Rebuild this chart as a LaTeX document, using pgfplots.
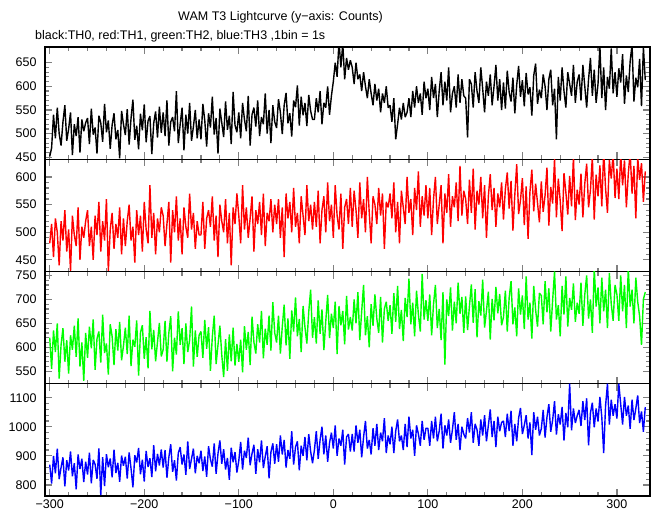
\documentclass[border=0pt]{standalone}
\usepackage{fontspec}
\setmainfont{Liberation Sans}
\usepackage{pgfplots}
\usepackage{pgfplotstable}
\pgfplotsset{compat=1.18}
\definecolor{pgreen}{RGB}{0,255,0}
\definecolor{pred}{RGB}{255,0,0}
\definecolor{pblue}{RGB}{0,0,255}

\pgfplotstableread[row sep=\\]{y\\
452\\470\\540\\490\\555\\500\\475\\525\\560\\485\\510\\545\\455\\520\\495\\535\\460\\530\\505\\523\\
533\\478\\553\\498\\513\\458\\538\\523\\483\\563\\503\\528\\468\\518\\543\\488\\508\\448\\548\\520\\
497\\552\\477\\532\\572\\487\\517\\467\\542\\507\\562\\482\\527\\537\\457\\522\\547\\492\\557\\502\\
545\\495\\570\\475\\525\\535\\505\\590\\480\\520\\555\\465\\540\\500\\565\\485\\515\\550\\490\\530\\
488\\563\\528\\473\\543\\513\\578\\498\\533\\458\\553\\523\\493\\568\\508\\538\\478\\588\\518\\503\\
545\\490\\565\\530\\505\\580\\475\\540\\555\\515\\570\\495\\535\\520\\585\\500\\550\\480\\560\\525\\
512\\573\\545\\499\\560\\586\\522\\543\\494\\570\\556\\602\\517\\578\\539\\565\\516\\582\\548\\530\\
530\\575\\545\\590\\520\\565\\555\\600\\540\\580\\610\\650\\620\\695\\640\\690\\615\\660\\635\\655\\
640\\605\\650\\615\\625\\590\\630\\600\\575\\615\\585\\560\\605\\570\\595\\545\\585\\565\\600\\555\\
560\\525\\575\\488\\520\\555\\530\\565\\535\\545\\575\\535\\590\\555\\600\\565\\585\\540\\610\\575\\
595\\550\\620\\575\\605\\535\\590\\630\\560\\610\\570\\640\\545\\585\\600\\555\\625\\565\\615\\580\\
575\\492\\615\\605\\555\\630\\590\\565\\640\\595\\545\\610\\580\\625\\560\\600\\645\\570\\615\\550\\
608\\553\\633\\588\\568\\618\\543\\603\\643\\578\\613\\558\\628\\583\\598\\538\\623\\648\\563\\593\\
575\\625\\600\\550\\615\\635\\560\\595\\488\\620\\570\\640\\590\\555\\630\\605\\580\\645\\565\\610\\
625\\570\\645\\600\\555\\615\\660\\580\\635\\565\\605\\685\\575\\640\\550\\620\\595\\680\\585\\630\\
578\\638\\608\\668\\563\\623\\588\\653\\688\\568\\618\\598\\658\\558\\683\\613\\
}\tblack

\pgfplotstableread[row sep=\\]{y\\
480\\515\\455\\525\\500\\440\\520\\485\\540\\465\\505\\430\\530\\495\\475\\545\\450\\510\\490\\520\\
540\\475\\510\\450\\530\\495\\555\\465\\520\\485\\560\\430\\505\\535\\470\\515\\490\\545\\460\\525\\
475\\520\\550\\485\\510\\445\\540\\495\\530\\465\\555\\505\\480\\585\\490\\535\\460\\525\\500\\545\\
530\\475\\515\\555\\445\\540\\500\\565\\485\\525\\460\\545\\510\\490\\570\\505\\535\\470\\520\\495\\
495\\555\\470\\525\\540\\510\\565\\485\\530\\455\\550\\520\\500\\560\\480\\535\\440\\545\\515\\570\\
530\\480\\585\\505\\545\\490\\525\\565\\465\\540\\515\\555\\495\\570\\475\\535\\520\\560\\500\\550\\
515\\560\\490\\545\\455\\570\\525\\555\\500\\580\\510\\535\\480\\565\\530\\495\\585\\520\\550\\505\\
555\\510\\575\\480\\540\\565\\500\\590\\520\\550\\490\\585\\530\\505\\570\\470\\545\\560\\515\\580\\
510\\575\\540\\490\\590\\525\\560\\500\\600\\535\\480\\565\\550\\515\\580\\530\\570\\470\\555\\545\\
570\\525\\590\\500\\555\\480\\575\\545\\515\\600\\535\\560\\495\\580\\540\\610\\510\\565\\530\\585\\
525\\580\\495\\560\\600\\515\\550\\585\\480\\570\\535\\605\\510\\565\\545\\590\\520\\620\\530\\575\\
560\\515\\595\\535\\615\\505\\575\\550\\600\\525\\585\\490\\565\\605\\540\\580\\510\\570\\545\\590\\
523\\578\\608\\543\\593\\503\\568\\623\\533\\558\\598\\513\\583\\488\\573\\613\\538\\588\\553\\518\\
592\\537\\567\\617\\512\\582\\552\\632\\527\\597\\557\\502\\607\\572\\532\\602\\547\\637\\522\\577\\
550\\606\\527\\588\\624\\545\\576\\637\\523\\604\\565\\621\\547\\648\\579\\535\\631\\597\\643\\562\\
615\\560\\640\\585\\630\\545\\605\\645\\570\\620\\525\\635\\595\\625\\555\\610\\
}\tred

\pgfplotstableread[row sep=\\]{y\\
620\\555\\635\\590\\650\\535\\605\\640\\570\\615\\545\\625\\595\\645\\580\\660\\560\\610\\530\\630\\
578\\643\\598\\658\\553\\618\\633\\568\\668\\588\\608\\543\\648\\623\\563\\638\\593\\653\\573\\603\\
641\\586\\666\\561\\616\\601\\656\\541\\631\\646\\576\\621\\556\\676\\596\\636\\571\\611\\651\\581\\
595\\655\\570\\630\\665\\550\\620\\585\\675\\605\\640\\565\\650\\590\\615\\685\\560\\635\\580\\625\\
633\\578\\657\\597\\642\\551\\622\\666\\565\\605\\645\\584\\538\\617\\551\\627\\571\\641\\562\\607\\
570\\616\\548\\644\\595\\632\\563\\664\\611\\587\\648\\610\\676\\577\\639\\605\\666\\593\\694\\630\\
610\\666\\587\\643\\689\\604\\660\\576\\677\\633\\704\\623\\659\\590\\686\\642\\608\\674\\720\\620\\
663\\608\\698\\628\\679\\594\\654\\709\\619\\670\\640\\695\\586\\686\\646\\676\\606\\707\\637\\663\\
635\\700\\650\\715\\615\\675\\730\\625\\665\\600\\690\\645\\710\\660\\630\\705\\610\\680\\695\\655\\
688\\628\\713\\653\\728\\638\\678\\613\\703\\663\\743\\648\\693\\623\\718\\668\\633\\753\\658\\698\\
655\\710\\625\\690\\730\\640\\680\\615\\715\\564\\700\\665\\725\\635\\695\\650\\735\\670\\705\\630\\
706\\636\\686\\731\\651\\721\\621\\696\\666\\741\\641\\676\\716\\616\\701\\656\\726\\671\\711\\646\\
663\\718\\633\\703\\738\\648\\683\\623\\723\\668\\708\\638\\748\\658\\693\\618\\728\\678\\643\\713\\
708\\648\\738\\673\\723\\633\\698\\758\\658\\688\\623\\728\\668\\748\\643\\703\\678\\733\\653\\693\\
670\\735\\645\\710\\750\\660\\700\\630\\765\\685\\725\\650\\745\\675\\720\\640\\755\\690\\655\\730\\
710\\655\\750\\675\\730\\640\\765\\685\\720\\650\\745\\695\\665\\605\\700\\715\\
}\tgreen

\pgfplotstableread[row sep=\\]{y\\
870\\805\\900\\840\\925\\820\\860\\895\\795\\885\\850\\915\\830\\875\\785\\905\\855\\890\\810\\880\\
836\\911\\806\\886\\871\\821\\926\\765\\896\\796\\906\\861\\891\\826\\921\\841\\876\\811\\901\\866\\
897\\822\\912\\857\\792\\902\\877\\927\\837\\887\\812\\917\\862\\892\\827\\937\\847\\907\\867\\922\\
860\\920\\825\\895\\940\\845\\885\\815\\910\\930\\870\\905\\835\\950\\855\\890\\925\\840\\900\\875\\
918\\848\\898\\828\\933\\888\\863\\943\\838\\908\\953\\873\\923\\853\\893\\818\\928\\878\\913\\843\\
883\\948\\853\\918\\893\\963\\868\\908\\938\\838\\923\\878\\953\\858\\898\\933\\823\\913\\943\\873\\
940\\880\\970\\905\\955\\860\\920\\890\\985\\870\\930\\950\\850\\935\\900\\965\\885\\975\\915\\875\\
920\\985\\890\\955\\1000\\905\\970\\880\\945\\980\\925\\1005\\900\\960\\935\\990\\870\\965\\975\\915\\
975\\915\\1005\\945\\990\\895\\965\\1020\\925\\955\\905\\995\\935\\1010\\920\\980\\950\\1030\\910\\970\\
940\\1000\\910\\985\\1025\\950\\970\\920\\1010\\930\\1035\\960\\990\\900\\1005\\975\\935\\1020\\955\\995\\
995\\935\\1020\\960\\1035\\950\\985\\1045\\925\\1005\\970\\1025\\945\\990\\1050\\955\\1010\\920\\1000\\975\\
960\\1030\\980\\1050\\945\\1010\\990\\935\\1025\\970\\1040\\950\\1005\\1060\\965\\1020\\930\\1035\\985\\1015\\
1020\\965\\1045\\985\\1055\\935\\1010\\950\\1030\\1065\\975\\1005\\1040\\960\\1015\\903\\1050\\990\\1035\\970\\
993\\1058\\963\\1033\\1078\\983\\1023\\1088\\973\\1043\\1008\\1068\\953\\1048\\998\\1148\\988\\1063\\1013\\1038\\
1058\\1003\\1088\\1023\\1098\\936\\1048\\1083\\998\\1063\\1018\\1103\\1033\\910\\1073\\1148\\1008\\1093\\1038\\1078\\
1028\\1148\\1078\\1008\\1103\\1038\\1073\\993\\1093\\1023\\1063\\1108\\1013\\1053\\983\\1068\\
}\tblue

\pgfplotsset{
  panel/.style={
    at={(45pt,#1pt)}, anchor=north west,
    scale only axis, width=605pt, height=112.25pt,
    xmin=-305, xmax=335,
    xtick={-300,-200,-100,0,100,200,300},
    minor x tick num=4, minor y tick num=4,
    xticklabels={},
    axis line style={line width=1.4pt},
    tick style={line width=1.2pt},
    major tick length=7pt, minor tick length=4pt,
    tick align=inside, tick pos=both,
    /pgf/number format/assume math mode=true,
    /pgf/number format/1000 sep={},
    yticklabel style={font=\fontsize{12.5}{14}\selectfont, xshift=-5pt},
    xticklabel style={font=\fontsize{12.5}{14}\selectfont},
  },
  lc/.style={draw=#1, line width=1.4pt, line join=bevel, mark=none},
}

\begin{document}
\begin{tikzpicture}[x=1pt,y=1pt]
\path[use as bounding box] (0,0) rectangle (652,-515);
\node[anchor=base west, inner sep=0pt, font=\fontsize{12.5}{15}\selectfont] at (178,-20.5) {WAM T3 Lightcurve (y−axis: Counts)};
\node[anchor=base west, inner sep=0pt, font=\fontsize{12.5}{15}\selectfont] at (35,-39.5) {black:TH0, red:TH1, green:TH2, blue:TH3 ,1bin = 1s};

\begin{axis}[panel=-47, ymin=446, ymax=683, ytick={450,500,550,600,650}]
\addplot[lc=black] table[x expr=\coordindex*2-300, y=y] {\tblack};
\end{axis}

\begin{axis}[panel=-159.25, ymin=429, ymax=632, ytick={450,500,550,600}]
\addplot[lc=pred] table[x expr=\coordindex*2-300, y=y] {\tred};
\end{axis}

\begin{axis}[panel=-271.5, ymin=524, ymax=758, ytick={550,600,650,700,750}]
\addplot[lc=pgreen] table[x expr=\coordindex*2-300, y=y] {\tgreen};
\end{axis}

\begin{axis}[panel=-383.75, ymin=762, ymax=1148, ytick={800,900,1000,1100},
  xticklabels={−300,−200,−100,0,100,200,300}]
\addplot[lc=pblue] table[x expr=\coordindex*2-300, y=y] {\tblue};
\end{axis}
\end{tikzpicture}
\end{document}
